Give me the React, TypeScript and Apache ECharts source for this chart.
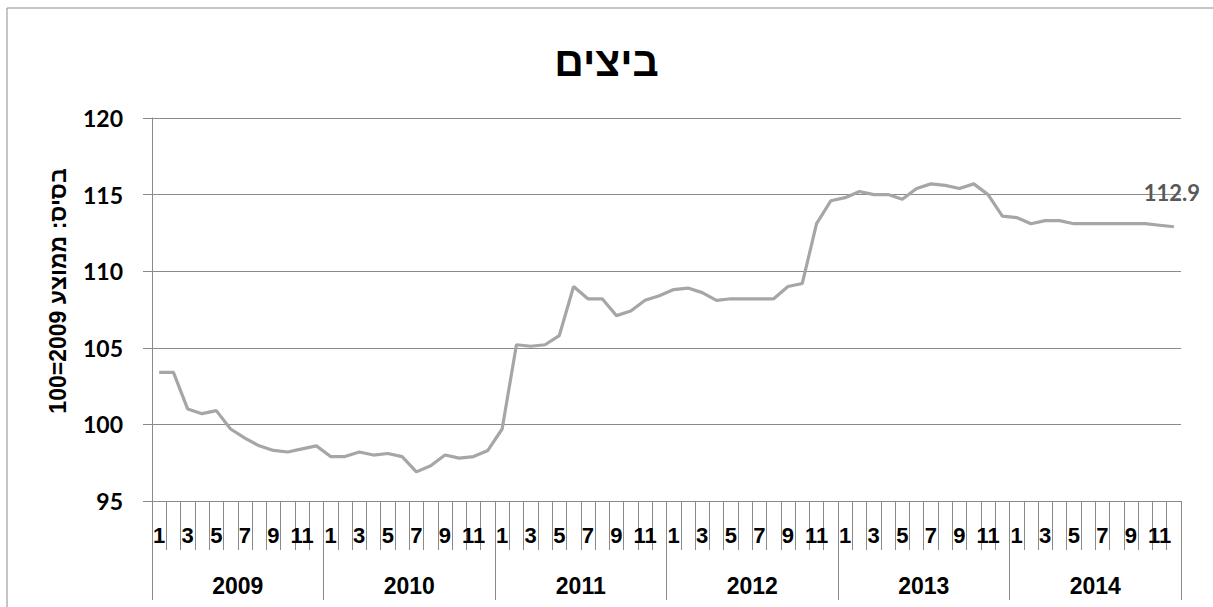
import React, { useEffect, useRef } from "react";
import * as echarts from "echarts";

const years = ["2009", "2010", "2011", "2012", "2013", "2014"];
const months = [1, 2, 3, 4, 5, 6, 7, 8, 9, 10, 11, 12];

const v2009 = [103.4, 103.4, 101.0, 100.7, 100.9, 99.7, 99.1, 98.6, 98.3, 98.2, 98.4, 98.6];
const v2010 = [97.9, 97.9, 98.2, 98.0, 98.1, 97.9, 96.9, 97.3, 98.0, 97.8, 97.9, 98.3];
const v2011 = [99.7, 105.2, 105.1, 105.2, 105.8, 109.0, 108.2, 108.2, 107.1, 107.4, 108.1, 108.4];
const v2012 = [108.8, 108.9, 108.6, 108.1, 108.2, 108.2, 108.2, 108.2, 109.0, 109.2, 113.1, 114.6];
const v2013 = [114.8, 115.2, 115.0, 115.0, 114.7, 115.4, 115.7, 115.6, 115.4, 115.7, 115.0, 113.6];
const v2014 = [113.5, 113.1, 113.3, 113.3, 113.1, 113.1, 113.1, 113.1, 113.1, 113.1, 113.0, 112.9];

const title = "ביצים";
const yName = "בסיס: ממוצע 2009=100";

export default function App() {
  const ref = useRef<HTMLDivElement>(null);

  useEffect(() => {
    if (!ref.current) return;
    const chart = echarts.init(ref.current, undefined, { renderer: "svg" });

    const categories: string[] = [];
    years.forEach((y) => months.forEach((m) => categories.push(`${y}-${m}`)));
    const values = [...v2009, ...v2010, ...v2011, ...v2012, ...v2013, ...v2014];
    const data = values.map((v, i) =>
      i === values.length - 1
        ? {
            value: v,
            label: {
              show: true,
              position: "top",
              offset: [-2, -18],
              formatter: (p: any) => Number(p.value).toFixed(1),
              fontFamily: "Lato",
              fontWeight: "bold",
              fontSize: 22,
              color: "#595959",
            },
          }
        : v
    );

    const gridColor = "#8a8a8a";

    chart.setOption({
      animation: false,
      backgroundColor: "#ffffff",
      title: {
        text: title,
        left: "center",
        top: 36,
        textStyle: {
          fontFamily: "Liberation Sans",
          fontWeight: "bold",
          fontSize: 41,
          color: "#000",
        },
      },
      graphic: [
        {
          type: "rect",
          shape: { x: 7, y: 8, width: 1220, height: 620 },
          style: { fill: "none", stroke: "#8c8c8c", lineWidth: 1 },
          silent: true,
        },
        {
          type: "text",
          x: 58,
          y: 291,
          rotation: Math.PI / 2,
          style: {
            text: yName,
            fontFamily: "Liberation Sans",
            fontWeight: "bold",
            fontSize: 23,
            fill: "#000",
            align: "center",
            verticalAlign: "middle",
          },
        },
      ],
      grid: { left: 152, right: 32, top: 118, bottom: 106, containLabel: false },
      xAxis: [
        {
          type: "category",
          data: categories,
          boundaryGap: true,
          position: "bottom",
          axisLine: { show: true, lineStyle: { color: gridColor, width: 1 } },
          axisTick: { show: true, interval: 0, length: 49, lineStyle: { color: gridColor } },
          axisLabel: {
            interval: 1,
            margin: 23,
            formatter: (v: string) => v.split("-")[1],
            fontFamily: "Liberation Sans",
            fontWeight: "bold",
            fontSize: 22,
            color: "#000",
          },
          splitLine: { show: false },
        },
        {
          type: "category",
          data: years,
          boundaryGap: true,
          position: "bottom",
          axisLine: { show: false },
          axisTick: { show: true, interval: 0, length: 99, lineStyle: { color: gridColor } },
          axisLabel: {
            interval: 0,
            margin: 73,
            fontFamily: "Liberation Sans",
            fontWeight: "bold",
            fontSize: 23,
            color: "#000",
          },
          splitLine: { show: false },
        },
      ],
      yAxis: {
        type: "value",
        min: 95,
        max: 120,
        interval: 5,
        axisLine: { show: true, lineStyle: { color: gridColor, width: 1 } },
        axisTick: { show: true, length: 9, lineStyle: { color: gridColor } },
        axisLabel: {
          margin: 29,
          fontFamily: "Lato",
          fontWeight: "bold",
          fontSize: 23,
          color: "#000",
        },
        splitLine: { show: true, lineStyle: { color: gridColor, width: 1 } },
      },
      series: [
        {
          type: "line",
          xAxisIndex: 0,
          data,
          symbol: "circle",
          symbolSize: 0,
          showSymbol: true,
          showAllSymbol: true,
          lineStyle: { color: "#a6a6a6", width: 3.2 },
          itemStyle: { color: "#a6a6a6" },
        },
      ],
    });

    return () => chart.dispose();
  }, []);

  return (
    <div
      ref={ref}
      style={{ position: "absolute", left: 0, top: 0, width: 1213, height: 607 }}
    />
  );
}
